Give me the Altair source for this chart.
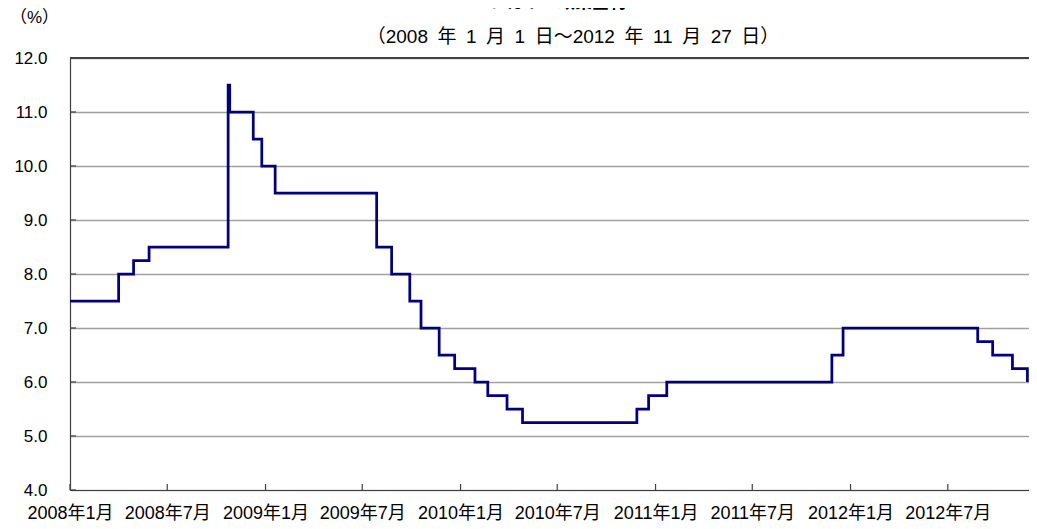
import json
import altair as alt
import pandas as pd

# Policy-rate change dates (step starts) and rate levels (%)
change_dates = [
    "2008-01-01", "2008-04-01", "2008-04-29", "2008-05-28", "2008-10-23", "2008-10-26",
    "2008-12-09", "2008-12-25", "2009-01-19", "2009-07-28", "2009-08-25", "2009-09-28",
    "2009-10-19", "2009-11-22", "2009-12-21", "2010-01-28", "2010-02-21", "2010-03-29",
    "2010-04-27", "2010-11-27", "2010-12-19", "2011-01-22", "2011-11-27", "2011-12-18",
    "2012-08-26", "2012-09-23", "2012-10-30", "2012-11-27",
]
rates = [
    7.50, 8.00, 8.25, 8.50, 11.50, 11.00,
    10.50, 10.00, 9.50, 8.50, 8.00, 7.50,
    7.00, 6.50, 6.25, 6.00, 5.75, 5.50,
    5.25, 5.50, 5.75, 6.00, 6.50, 7.00,
    6.75, 6.50, 6.25, 6.00,
]

tick_dates = [
    "2008-01-01", "2008-07-01", "2009-01-01", "2009-07-01", "2010-01-01",
    "2010-07-01", "2011-01-01", "2011-07-01", "2012-01-01", "2012-07-01",
]
tick_labels = [
    "2008年1月", "2008年7月", "2009年1月", "2009年7月", "2010年1月",
    "2010年7月", "2011年1月", "2011年7月", "2012年1月", "2012年7月",
]
y_ticks = [4.0, 5.0, 6.0, 7.0, 8.0, 9.0, 10.0, 11.0, 12.0]

title_text = "ハンガリー政策金利"
subtitle_text = "（2008\u2002年\u20021\u2002月\u20021\u2002日～2012\u2002年\u200211\u2002月\u200227\u2002日）"
unit_text = "（%）"

FONT = "Liberation Sans, Arial, Noto Sans CJK JP"
W, H = 959, 432

df = pd.DataFrame({"date": change_dates, "rate": rates})
ticks_df = pd.DataFrame({"date": tick_dates})
yt_df = pd.DataFrame({"rate": y_ticks})


def dt(s):
    y, m, d = s.split("-")
    return alt.DateTime(year=int(y), month=int(m), date=int(d), utc=True)


xscale = alt.Scale(type="utc", domain=[dt("2008-01-01"), dt("2012-11-30")])
yscale = alt.Scale(domain=[4, 12], nice=False, zero=False)

label_expr = (
    json.dumps(tick_labels, ensure_ascii=False)
    + "[(utcyear(datum.value)-2008)*2 + (utcmonth(datum.value) >= 6 ? 1 : 0)]"
)

xaxis = alt.Axis(
    values=[dt(d) for d in tick_dates],
    labelExpr=label_expr,
    ticks=False,
    grid=False,
    labelPadding=14,
    labelFontSize=18,
    labelColor="#000000",
    labelFlush=False,
    labelOverlap=False,
    domainColor="#404040",
    domainWidth=1.2,
    title=None,
)
yaxis = alt.Axis(
    values=y_ticks,
    format=".1f",
    ticks=False,
    labelPadding=23,
    labelFontSize=17,
    labelColor="#000000",
    domainColor="#404040",
    domainWidth=1.2,
    grid=True,
    gridColor="#a0a0a0",
    gridWidth=1.4,
    title=None,
)

line = alt.Chart(df).mark_line(
    interpolate="step-after", color="#000080", strokeWidth=2.75
).encode(
    x=alt.X("date:T", scale=xscale, axis=xaxis),
    y=alt.Y("rate:Q", scale=yscale, axis=yaxis),
)

top_rule = alt.Chart(yt_df).mark_rule(color="#404040", strokeWidth=1.2).encode(
    y=alt.datum(12, scale=yscale, axis=yaxis)
)

ytick_marks = alt.Chart(yt_df).mark_rule(color="#404040", strokeWidth=1.2).encode(
    y=alt.Y("rate:Q", scale=yscale, axis=yaxis),
    x=alt.value(0),
    x2=alt.value(6),
)

xtick_marks = alt.Chart(ticks_df).mark_rule(color="#404040", strokeWidth=1.2).encode(
    x=alt.X("date:T", scale=xscale, axis=xaxis),
    y=alt.value(H),
    y2=alt.value(H - 6),
)

title_mark = alt.Chart(pd.DataFrame({"t": [title_text]})).mark_text(
    fontSize=17, fontWeight="bold", font=FONT, baseline="alphabetic", align="center"
).encode(text="t:N", x=alt.value(W / 2), y=alt.value(-50))

subtitle_mark = alt.Chart(pd.DataFrame({"t": [subtitle_text]})).mark_text(
    fontSize=19, font=FONT, baseline="middle", align="center", color="#000000"
).encode(text="t:N", x=alt.value(503), y=alt.value(-21))

unit_mark = alt.Chart(pd.DataFrame({"t": [unit_text]})).mark_text(
    fontSize=17, font=FONT, baseline="middle", align="left", color="#000000"
).encode(text="t:N", x=alt.value(-60), y=alt.value(-40))

chart = alt.layer(
    line, top_rule, ytick_marks, xtick_marks, title_mark, subtitle_mark, unit_mark
).properties(
    width=W,
    height=H,
    autosize=alt.AutoSizeParams(type="none"),
    padding={"left": 62, "top": 50, "right": 0, "bottom": 31},
).configure(font=FONT).configure_view(stroke=None).configure_axis(
    labelFont=FONT
)

chart.save("out.html", embed_options={"renderer": "svg", "actions": False})
